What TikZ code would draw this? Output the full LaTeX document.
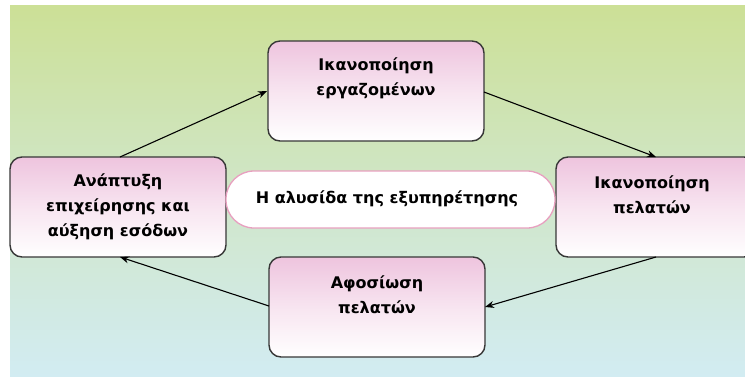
\documentclass[tikz,border=0pt]{standalone}
\usepackage{fontspec}
\setmainfont{DejaVu Sans}
\usetikzlibrary{arrows.meta}
\definecolor{bgtop}{RGB}{204,224,150}
\definecolor{bgmid}{RGB}{208,230,200}
\definecolor{bgbot}{RGB}{210,236,242}
\definecolor{pinktop}{RGB}{238,196,222}
\definecolor{boxline}{RGB}{55,55,55}
\definecolor{ellline}{RGB}{232,160,192}
\tikzset{
  stagebox/.style={draw=boxline, line width=1.4pt, rounded corners=12pt,
    top color=pinktop, bottom color=white, middle color=pinktop!45!white,
    minimum width=#1, minimum height=100pt, inner sep=0pt},
  stagetext/.style={font=\bfseries\fontsize{16}{25}\selectfont, align=center, inner sep=0pt, text=black},
  flow/.style={-{Stealth[length=9pt,width=7pt]}, line width=1.1pt, black}
}
\begin{document}
\begin{tikzpicture}[x=1pt,y=-1pt]
\useasboundingbox (0,0) rectangle (745,376);
\shade[top color=bgtop, bottom color=bgbot, middle color=bgmid] (10,5) rectangle (745,376);
\node[stagebox=216pt] (top) at (376,91) {};
\node[stagebox=216pt] (left) at (118,207) {};
\node[stagebox=200pt] (right) at (656,207) {};
\node[stagebox=216pt] (bot) at (377,307) {};
\node[draw=ellline, line width=1.3pt, fill=white, rounded corners=28pt, minimum width=329pt, minimum height=57pt, inner sep=0pt] (mid) at (390.5,199.5) {};
\node[stagetext] (toptext) at (376,78.5) {Ικανοποίηση\\εργαζομένων};
\node[stagetext] (lefttext) at (118,206.5) {Ανάπτυξη\\επιχείρησης και\\αύξηση εσόδων};
\node[stagetext] (righttext) at (652,194.5) {Ικανοποίηση\\πελατών};
\node[stagetext] (bottext) at (377,294.5) {Αφοσίωση\\πελατών};
\node[stagetext] (midtext) at (387,199) {Η αλυσίδα της εξυπηρέτησης};
\coordinate (a1s) at (120,157);
\coordinate (a1e) at (267,91);
\coordinate (a2s) at (484,92);
\coordinate (a2e) at (656,157);
\coordinate (a3s) at (656,257);
\coordinate (a3e) at (485,307);
\coordinate (a4s) at (269,306);
\coordinate (a4e) at (120,257);
\draw[flow] (a1s) -- (a1e);
\draw[flow] (a2s) -- (a2e);
\draw[flow] (a3s) -- (a3e);
\draw[flow] (a4s) -- (a4e);
\end{tikzpicture}
\end{document}
